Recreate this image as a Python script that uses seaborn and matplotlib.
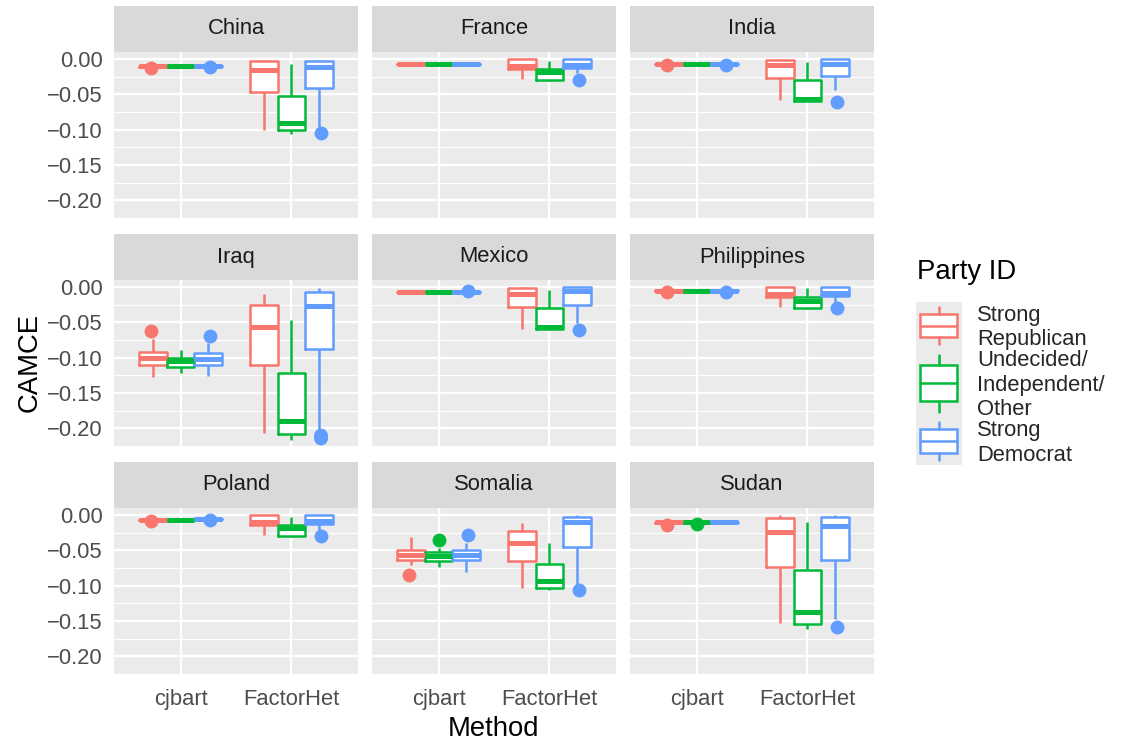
import numpy as np
import pandas as pd
import matplotlib
matplotlib.use("Agg")
import matplotlib.pyplot as plt
import seaborn as sns
from matplotlib.patches import Rectangle, Patch
from matplotlib.lines import Line2D
from matplotlib.legend_handler import HandlerBase
from matplotlib.ticker import MultipleLocator, FuncFormatter

countries = ["China", "France", "India", "Iraq", "Mexico",
             "Philippines", "Poland", "Somalia", "Sudan"]
methods = ["cjbart", "FactorHet"]
parties = ["Strong\nRepublican", "Undecided/\nIndependent/\nOther", "Strong\nDemocrat"]
colors = ["#F8766D", "#00BA38", "#619CFF"]

# box summaries
# per country: cjbart (Rep, Ind, Dem), FactorHet (Rep, Ind, Dem)
whis_lo = [
    -0.0118, -0.0108, -0.0115, -0.1007, -0.1060, -0.0980,   # China
    -0.0075, -0.0075, -0.0075, -0.0290, -0.0305, -0.0200,   # France
    -0.0082, -0.0075, -0.0082, -0.0580, -0.0600, -0.0440,   # India
    -0.1275, -0.1220, -0.1265, -0.2070, -0.2166, -0.2030,   # Iraq
    -0.0075, -0.0075, -0.0078, -0.0588, -0.0605, -0.0517,   # Mexico
    -0.0065, -0.0058, -0.0065, -0.0290, -0.0305, -0.0210,   # Philippines
    -0.0080, -0.0075, -0.0068, -0.0280, -0.0305, -0.0210,   # Poland
    -0.0710, -0.0735, -0.0806, -0.1030, -0.1066, -0.0995,   # Somalia
    -0.0112, -0.0112, -0.0112, -0.1530, -0.1610, -0.1470,   # Sudan
]
q1 = [
    -0.0108, -0.0103, -0.0106, -0.0470, -0.1005, -0.0416,
    -0.0072, -0.0072, -0.0072, -0.0147, -0.0300, -0.0130,
    -0.0075, -0.0072, -0.0075, -0.0274, -0.0590, -0.0240,
    -0.1110, -0.1130, -0.1100, -0.1100, -0.2080, -0.0880,
    -0.0072, -0.0072, -0.0073, -0.0280, -0.0597, -0.0250,
    -0.0057, -0.0055, -0.0057, -0.0147, -0.0300, -0.0128,
    -0.0074, -0.0072, -0.0062, -0.0140, -0.0300, -0.0128,
    -0.0640, -0.0650, -0.0640, -0.0650, -0.1040, -0.0450,
    -0.0108, -0.0108, -0.0108, -0.0735, -0.1550, -0.0640,
]
median = [
    -0.0102, -0.0100, -0.0100, -0.0160, -0.0900, -0.0110,
    -0.0070, -0.0070, -0.0070, -0.0095, -0.0190, -0.0080,
    -0.0070, -0.0070, -0.0070, -0.0090, -0.0567, -0.0076,
    -0.1005, -0.1047, -0.1020, -0.0573, -0.1900, -0.0270,
    -0.0070, -0.0070, -0.0070, -0.0095, -0.0564, -0.0050,
    -0.0052, -0.0052, -0.0052, -0.0100, -0.0200, -0.0080,
    -0.0070, -0.0070, -0.0058, -0.0095, -0.0190, -0.0080,
    -0.0560, -0.0580, -0.0567, -0.0403, -0.0940, -0.0095,
    -0.0104, -0.0104, -0.0104, -0.0237, -0.1375, -0.0156,
]
q3 = [
    -0.0096, -0.0097, -0.0095, -0.0033, -0.0525, -0.0024,
    -0.0068, -0.0068, -0.0068, -0.0005, -0.0140, 0.0000,
    -0.0065, -0.0068, -0.0065, -0.0014, -0.0300, 0.0000,
    -0.0920, -0.1005, -0.0934, -0.0256, -0.1218, -0.0066,
    -0.0068, -0.0068, -0.0067, -0.0014, -0.0300, 0.0000,
    -0.0047, -0.0050, -0.0047, 0.0000, -0.0137, 0.0000,
    -0.0066, -0.0068, -0.0054, 0.0000, -0.0140, 0.0000,
    -0.0490, -0.0520, -0.0490, -0.0223, -0.0687, -0.0033,
    -0.0100, -0.0100, -0.0100, -0.0047, -0.0780, -0.0024,
]
whis_hi = [
    -0.0088, -0.0093, -0.0088, -0.0010, -0.0070, -0.0015,
    -0.0065, -0.0065, -0.0065, -0.0002, -0.0024, 0.0005,
    -0.0058, -0.0065, -0.0058, -0.0005, -0.0047, 0.0003,
    -0.0730, -0.0886, -0.0790, -0.0104, -0.0470, -0.0010,
    -0.0065, -0.0065, -0.0062, -0.0005, -0.0043, 0.0003,
    -0.0040, -0.0047, -0.0040, 0.0002, -0.0020, 0.0002,
    -0.0060, -0.0065, -0.0048, 0.0002, -0.0024, 0.0002,
    -0.0318, -0.0470, -0.0390, -0.0110, -0.0403, 0.0000,
    -0.0096, -0.0096, -0.0096, 0.0000, -0.0104, 0.0000,
]

# outlying points: country, method, party index, value
out_country = ["China", "China", "China", "France", "India", "India", "India",
               "Iraq", "Iraq", "Iraq", "Iraq", "Mexico", "Mexico",
               "Philippines", "Philippines", "Philippines",
               "Poland", "Poland", "Poland",
               "Somalia", "Somalia", "Somalia", "Somalia",
               "Sudan", "Sudan", "Sudan"]
out_method = ["cjbart", "cjbart", "FactorHet", "FactorHet", "cjbart", "cjbart", "FactorHet",
              "cjbart", "cjbart", "FactorHet", "FactorHet", "cjbart", "FactorHet",
              "cjbart", "cjbart", "FactorHet",
              "cjbart", "cjbart", "FactorHet",
              "cjbart", "cjbart", "cjbart", "FactorHet",
              "cjbart", "cjbart", "FactorHet"]
out_party = [0, 2, 2, 2, 0, 2, 2,
             0, 2, 2, 2, 2, 2,
             0, 2, 2,
             0, 2, 2,
             0, 1, 2, 2,
             0, 1, 2]
out_value = [-0.0122, -0.0120, -0.1045, -0.0300, -0.0085, -0.0085, -0.0605,
             -0.0626, -0.0697, -0.2105, -0.2145, -0.0052, -0.0610,
             -0.0068, -0.0068, -0.0294,
             -0.0085, -0.0070, -0.0300,
             -0.0853, -0.0355, -0.0290, -0.1057,
             -0.0140, -0.0128, -0.1590]

# long table: each box as 7 values so that quartiles land exactly on q1/median/q3
rows = []
i = 0
for c in countries:
    for m in methods:
        for p in parties:
            vals = [whis_lo[i], q1[i], q1[i], median[i], q3[i], q3[i], whis_hi[i]]
            rows += [(c, m, p, v) for v in vals]
            i += 1
df = pd.DataFrame(rows, columns=["country", "method", "party", "value"])
out_df = pd.DataFrame({"country": out_country, "method": out_method,
                       "party": [parties[k] for k in out_party], "value": out_value})

sns.set_theme(style="darkgrid", rc={
    "axes.facecolor": "#EBEBEB",
    "grid.color": "white",
    "axes.edgecolor": "none",
    "xtick.color": "#333333",
    "ytick.color": "#333333",
    "xtick.labelcolor": "#4D4D4D",
    "ytick.labelcolor": "#4D4D4D",
    "xtick.labelsize": 15.8,
    "ytick.labelsize": 15.8,
    "xtick.major.size": 4.75,
    "ytick.major.size": 4.75,
    "xtick.major.width": 1.4,
    "ytick.major.width": 1.4,
    "xtick.major.pad": 5.5,
    "ytick.major.pad": 3.5,
})
plt.rcParams["font.family"] = ["Liberation Sans", "DejaVu Sans"]

pal = dict(zip(parties, colors))
white = {p: "white" for p in parties}

g = sns.FacetGrid(df, col="country", col_wrap=3, col_order=countries,
                  sharex=True, sharey=True, height=2.4, aspect=1.46)

W, H = 1124, 744
lefts = [114, 372, 630]
tops = [52, 280, 508]
pw, ph, sh = 244, 167, 46

fmt = FuncFormatter(lambda v, pos: f"{abs(v):.2f}" if abs(v) < 1e-9 else f"{v:.2f}".replace("-", "\u2212"))

for k, c in enumerate(countries):
    ax = g.axes_dict[c]
    sub = df[df["country"] == c]
    osub = out_df[out_df["country"] == c]
    # white box bodies
    sns.boxplot(data=sub, x="method", y="value", hue="party", order=methods,
                hue_order=parties, palette=white, width=0.75, gap=0,
                whis=(0, 100), linewidth=0, fliersize=0, legend=False, ax=ax)
    # coloured outlines, whiskers and medians
    sns.boxplot(data=sub, x="method", y="value", hue="party", order=methods,
                hue_order=parties, palette=pal, width=0.75, gap=0, fill=False,
                whis=(0, 100), linewidth=1.8, fliersize=0, legend=False,
                medianprops=dict(linewidth=3.6), capprops=dict(visible=False), ax=ax)
    sns.stripplot(data=osub, x="method", y="value", hue="party", order=methods,
                  hue_order=parties, palette=pal, dodge=True, jitter=False,
                  size=10, linewidth=0, legend=False, ax=ax)

    r, col = divmod(k, 3)
    ax.set_position([lefts[col] / W, 1 - (tops[r] + ph) / H, pw / W, ph / H])
    ax.set_xlim(-0.6, 1.6)
    ax.set_ylim(-0.2266, 0.0099)
    ax.yaxis.set_major_locator(MultipleLocator(0.05))
    ax.yaxis.set_minor_locator(MultipleLocator(0.025))
    ax.yaxis.set_major_formatter(fmt)
    ax.grid(True, which="major", color="white", linewidth=1.7)
    ax.grid(True, which="minor", axis="y", color="white", linewidth=0.85)
    ax.set_axisbelow(True)
    ax.set_title("")
    ax.set_xlabel("")
    ax.set_ylabel("")
    ax.tick_params(which="minor", length=0)
    if col != 0:
        ax.tick_params(axis="y", length=0, labelleft=False)
    if r != 2:
        ax.tick_params(axis="x", length=0, labelbottom=False)
    else:
        ax.tick_params(axis="x", labelbottom=True)

    # ggplot-style strip
    ax.add_patch(Rectangle((0, 1), 1, sh / ph, transform=ax.transAxes,
                           facecolor="#D9D9D9", edgecolor="none", clip_on=False))
    ax.text(0.5, 1 + sh / ph / 2, c, transform=ax.transAxes, ha="center",
            va="center", fontsize=15.8, color="#1A1A1A")

fig = g.figure
fig.set_size_inches(W / 100, H / 100)
fig.text(30 / W, 1 - 363 / H, "CAMCE", rotation=90, ha="center", va="center",
         fontsize=19.8, color="black")
fig.text(494 / W, 1 - 729 / H, "Method", ha="center", va="center",
         fontsize=19.8, color="black")
fig.text(917 / W, 1 - 272 / H, "Party ID", ha="left", va="center",
         fontsize=19.8, color="black")


class BoxKey(HandlerBase):
    def create_artists(self, legend, orig_handle, xdescent, ydescent,
                       width, height, fontsize, trans):
        c = orig_handle.get_edgecolor()
        n = orig_handle.nlines
        kh = 18.0 * n - 2.2
        x0 = -xdescent
        cy = -ydescent + height / 2 + 2.2
        xm = x0 + width / 2
        bg = Rectangle((x0, cy - kh / 2), width, kh, facecolor="#EBEBEB",
                       edgecolor="none", transform=trans)
        box = Rectangle((x0 + 0.1 * width, cy - 0.25 * kh), 0.8 * width, 0.5 * kh,
                        facecolor="white", edgecolor=c, linewidth=1.8, transform=trans)
        w1 = Line2D([xm, xm], [cy - 0.4 * kh, cy - 0.25 * kh], color=c, lw=1.8, transform=trans)
        w2 = Line2D([xm, xm], [cy + 0.25 * kh, cy + 0.4 * kh], color=c, lw=1.8, transform=trans)
        md = Line2D([x0 + 0.1 * width, x0 + 0.9 * width], [cy, cy], color=c, lw=1.8,
                    transform=trans)
        return [bg, box, w1, w2, md]


handles = []
for p, col in zip(parties, colors):
    h = Patch(facecolor="white", edgecolor=col)
    h.nlines = p.count("\n") + 1
    handles.append(h)

leg = fig.legend(handles, parties, handler_map={Patch: BoxKey()},
                 loc="upper left", bbox_to_anchor=(896 / W, 1 - 285 / H),
                 frameon=False, fontsize=15.8, labelspacing=0.0,
                 handlelength=2.1, handleheight=2.1, handletextpad=0.7)
for t in leg.get_texts():
    t.set_linespacing(1.22)

fig.savefig("out.png", dpi=100)
